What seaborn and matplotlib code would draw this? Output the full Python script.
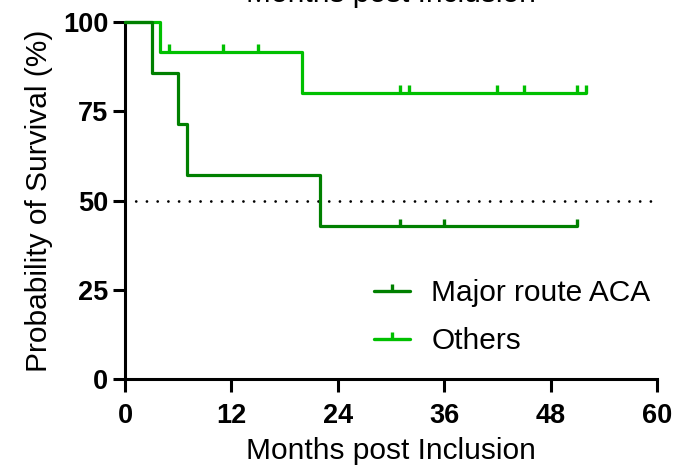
import numpy as np
import pandas as pd
import seaborn as sns
import matplotlib
matplotlib.use("Agg")
import matplotlib.pyplot as plt
from matplotlib.path import Path
from matplotlib.lines import Line2D

sns.set_style("white")
plt.rcParams['font.family'] = ['Liberation Sans', 'DejaVu Sans']
plt.rcParams['text.color'] = 'black'
plt.rcParams['axes.labelcolor'] = 'black'
plt.rcParams['xtick.color'] = 'black'
plt.rcParams['ytick.color'] = 'black'

# ---- data ----
groups = ["Major route ACA", "Others"]
colors = ["#008000", "#00C000"]

major_t = [0, 3, 6, 7, 22, 51]
major_s = [100, 85.7, 71.4, 57.1, 42.9, 42.9]
major_cens_t = [31, 36, 51]
major_cens_s = [42.9, 42.9, 42.9]

others_t = [0, 4, 20, 52]
others_s = [100, 91.7, 80.2, 80.2]
others_cens_t = [5, 11, 15, 31, 32, 42, 45, 51, 52]
others_cens_s = [91.7, 91.7, 91.7, 80.2, 80.2, 80.2, 80.2, 80.2, 80.2]

x_ticks = [0, 12, 24, 36, 48, 60]
y_ticks = [0, 25, 50, 75, 100]
median_line = 50

curves = pd.concat([
    pd.DataFrame({"t": major_t, "s": major_s, "g": groups[0]}),
    pd.DataFrame({"t": others_t, "s": others_s, "g": groups[1]}),
])
cens = pd.concat([
    pd.DataFrame({"t": major_cens_t, "s": major_cens_s, "g": groups[0]}),
    pd.DataFrame({"t": others_cens_t, "s": others_cens_s, "g": groups[1]}),
])

W, H = 677, 469
fig = plt.figure(figsize=(W / 100, H / 100), dpi=100)
ax = fig.add_axes([125 / W, 1 - 379 / H, (657 - 125) / W, (379 - 22) / H])

tick_marker = Path([[0, 0], [0, 1]])

# median dotted line
ax.plot([0, 59.5], [median_line, median_line], color="black", lw=2.0,
        linestyle=(0, (0.01, 3.85)), dash_capstyle="round", zorder=1)

for g, c in zip(groups[::-1], colors[::-1]):
    sub = curves[curves.g == g]
    sns.lineplot(data=sub, x="t", y="s", ax=ax, color=c, lw=2.3,
                 drawstyle="steps-post", estimator=None, sort=False,
                 legend=False, clip_on=False, zorder=3)
    csub = cens[cens.g == g]
    sns.scatterplot(data=csub, x="t", y="s", ax=ax, marker=tick_marker,
                    s=110, facecolor="none", edgecolor=c, linewidth=2.4,
                    legend=False, clip_on=False, zorder=3)

ax.set_xlim(0, 60)
ax.set_ylim(0, 100)
ax.set_xticks(x_ticks)
ax.set_yticks(y_ticks)
ax.set_xticklabels([str(v) for v in x_ticks], fontsize=19.5, fontweight="bold")
ax.set_yticklabels([str(v) for v in y_ticks], fontsize=19.5, fontweight="bold")
ax.tick_params(axis="x", direction="out", length=9, width=2.2, color="black",
               bottom=True, pad=8)
ax.tick_params(axis="y", direction="out", length=9, width=2.2, color="black",
               left=True, pad=3)
for side in ["top", "right"]:
    ax.spines[side].set_visible(False)
for side in ["left", "bottom"]:
    ax.spines[side].set_linewidth(2.2)
    ax.spines[side].set_color("black")
ax.set_xlabel("Months post Inclusion", fontsize=21.5, labelpad=6)
ax.set_ylabel("Probability of Survival (%)", fontsize=21.5, labelpad=7)

# top (clipped) axis title
fig.text((125 + 657) / 2 / W, 1 - 2 / H, "Months post Inclusion",
         fontsize=21.5, ha="center", va="baseline")

handles = [Line2D([0], [0], color=c, lw=2.4, marker=tick_marker,
                  markersize=10, markeredgewidth=2.4) for c in colors]
leg = ax.legend(handles, groups, loc="upper left",
                bbox_to_anchor=(374 / W, 1 - 279 / H), bbox_transform=fig.transFigure,
                frameon=False, fontsize=21.5, handlelength=1.2,
                handletextpad=0.72, labelspacing=0.68, borderaxespad=0,
                borderpad=0)

fig.savefig("out.png", dpi=100)
